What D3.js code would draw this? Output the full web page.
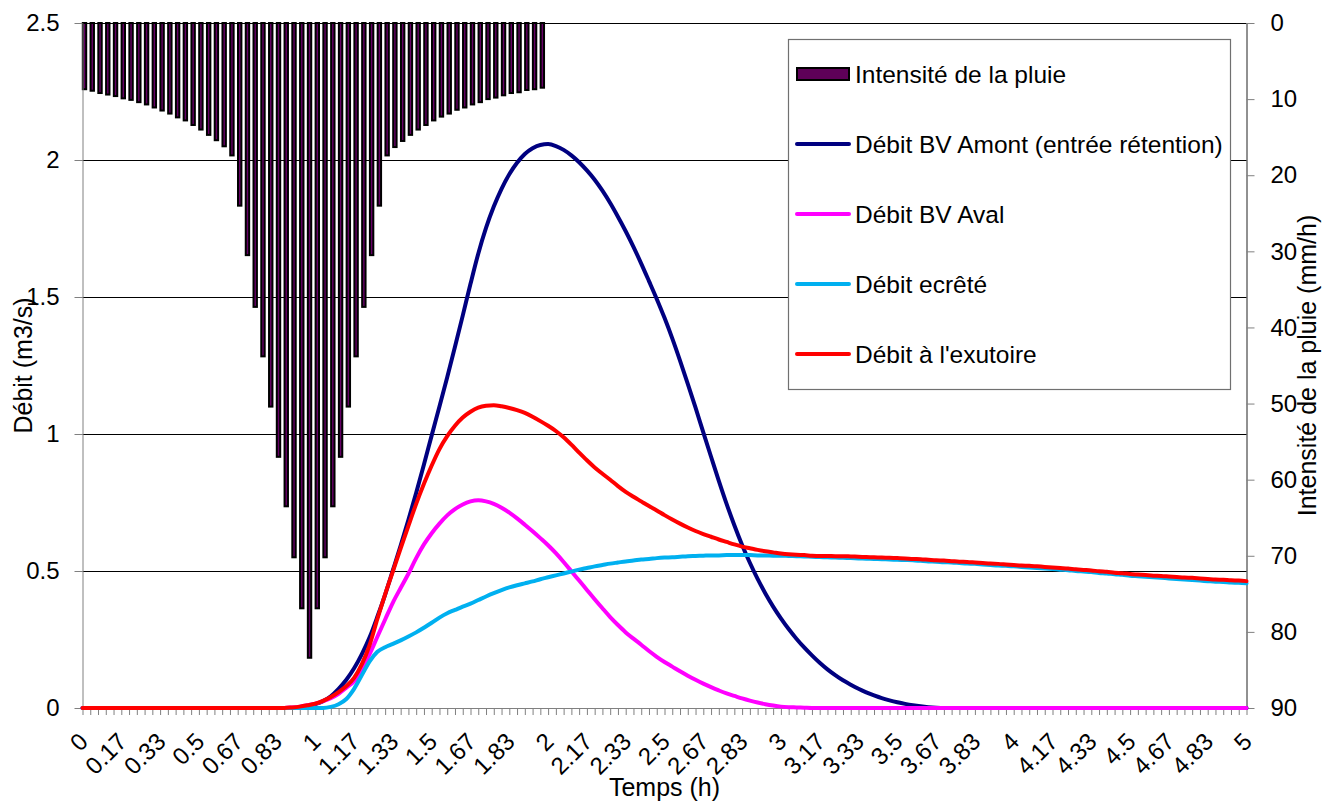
<!DOCTYPE html>
<html>
<head>
<meta charset="utf-8">
<script src="https://d3js.org/d3.v7.min.js"></script>
<style>
  body { margin: 0; background: #fff; }
  svg text { font-family: "Liberation Sans", Arial, sans-serif; fill: #000; }
</style>
</head>
<body>
<div id="chart"></div>
<script>
// tick labels of the time axis (one every 5 steps of 2 min)
var timeLabels = ["0","0.17","0.33","0.5","0.67","0.83","1","1.17","1.33","1.5","1.67","1.83",
  "2","2.17","2.33","2.5","2.67","2.83","3","3.17","3.33","3.5","3.67","3.83",
  "4","4.17","4.33","4.5","4.67","4.83","5"];
var nSteps = 151;

// rain intensity (mm/h), one bar per time step, first 60 steps
var rain = [8.7,8.9,9.2,9.4,9.6,9.9,10.1,10.4,10.7,11.1,11.5,11.9,12.4,12.8,13.4,14.0,14.7,15.4,16.2,17.4,
  24.0,30.5,37.3,43.8,50.4,57.0,63.5,70.2,76.9,83.4,76.9,70.2,63.5,57.0,50.4,43.8,37.3,30.5,24.0,17.4,
  16.3,15.5,14.7,14.0,13.4,12.8,12.3,11.9,11.4,11.1,10.7,10.4,10.0,9.8,9.5,9.2,9.1,8.8,8.7,8.5];

// Débit BV Amont (entrée rétention)
var amont = [0,0,0,0,0,0,0,0,0,0, 0,0,0,0,0,0,0,0,0,0, 0,0,0,0,0,0,0,0,0.003,0.007,
  0.014,0.025,0.043,0.070,0.103,0.145,0.197,0.258,0.333,0.414,
  0.503,0.593,0.687,0.785,0.889,0.995,1.100,1.207,1.318,1.432,
  1.548,1.658,1.752,1.830,1.895,1.948,1.990,2.022,2.043,2.055,
  2.058,2.051,2.037,2.017,1.992,1.962,1.928,1.888,1.843,1.793,
  1.740,1.683,1.622,1.558,1.493,1.424,1.349,1.268,1.183,1.096,
  1.006,0.917,0.829,0.745,0.667,0.595,0.530,0.471,0.418,0.370,
  0.327,0.288,0.253,0.221,0.192,0.165,0.141,0.120,0.101,0.085,
  0.070,0.057,0.046,0.036,0.028,0.021,0.015,0.010,0.006,0.003,
  0.001,0,0,0,0,0,0,0,0,0, 0,0,0,0,0,0,0,0,0,0, 0,0,0,0,0,0,0,0,0,0, 0,0,0,0,0,0,0,0,0,0, 0];

// Débit BV Aval
var aval = [0,0,0,0,0,0,0,0,0,0, 0,0,0,0,0,0,0,0,0,0, 0,0,0,0,0,0,0,0.002,0.005,0.010,
  0.016,0.025,0.036,0.052,0.074,0.098,0.141,0.197,0.260,0.323,
  0.385,0.438,0.490,0.547,0.597,0.638,0.673,0.703,0.726,0.743,
  0.754,0.758,0.754,0.745,0.731,0.713,0.692,0.669,0.645,0.620,
  0.594,0.565,0.533,0.499,0.465,0.431,0.397,0.364,0.332,0.303,
  0.276,0.253,0.231,0.208,0.187,0.168,0.151,0.134,0.118,0.103,
  0.089,0.076,0.064,0.053,0.044,0.035,0.027,0.020,0.014,0.009,
  0.005,0.003,0.002,0.001,0,0,0,0,0,0,
  0,0,0,0,0,0,0,0,0,0, 0,0,0,0,0,0,0,0,0,0, 0,0,0,0,0,0,0,0,0,0,
  0,0,0,0,0,0,0,0,0,0, 0,0,0,0,0,0,0,0,0,0, 0];

// Débit ecrêté
var ecrete = [0,0,0,0,0,0,0,0,0,0, 0,0,0,0,0,0,0,0,0,0, 0,0,0,0,0,0,0,0,0,0,
  0,0,0.004,0.014,0.033,0.070,0.120,0.170,0.205,0.222,
  0.234,0.247,0.261,0.276,0.293,0.311,0.330,0.346,0.358,0.370,
  0.381,0.394,0.407,0.419,0.430,0.440,0.448,0.455,0.462,0.470,
  0.477,0.484,0.491,0.498,0.505,0.511,0.517,0.522,0.527,0.531,
  0.535,0.538,0.542,0.544,0.547,0.549,0.550,0.552,0.554,0.555,
  0.556,0.557,0.557,0.558,0.558,0.558,0.558,0.557,0.557,0.556,
  0.556,0.555,0.554,0.553,0.552,0.551,0.550,0.549,0.548,0.547,
  0.546,0.545,0.544,0.543,0.542,0.541,0.540,0.539,0.537,0.535,
  0.534,0.532,0.531,0.529,0.527,0.526,0.524,0.522,0.520,0.519,
  0.517,0.515,0.513,0.511,0.509,0.507,0.505,0.503,0.500,0.498,
  0.496,0.493,0.491,0.488,0.486,0.483,0.481,0.479,0.477,0.475,
  0.473,0.471,0.469,0.467,0.465,0.463,0.461,0.460,0.458,0.457,
  0.455];

// Débit à l'exutoire
var exutoire = [0,0,0,0,0,0,0,0,0,0, 0,0,0,0,0,0,0,0,0,0, 0,0,0,0,0,0,0,0.002,0.005,0.010,
  0.016,0.026,0.040,0.058,0.080,0.110,0.160,0.230,0.325,0.415,
  0.499,0.583,0.665,0.745,0.818,0.885,0.945,0.992,1.030,1.060,
  1.081,1.096,1.103,1.105,1.101,1.095,1.087,1.077,1.063,1.047,
  1.030,1.011,0.988,0.961,0.932,0.904,0.878,0.855,0.833,0.810,
  0.789,0.771,0.754,0.737,0.721,0.704,0.688,0.673,0.659,0.646,
  0.635,0.625,0.615,0.606,0.597,0.589,0.583,0.577,0.572,0.568,
  0.564,0.561,0.559,0.558,0.556,0.555,0.555,0.554,0.554,0.553,
  0.552,0.551,0.550,0.549,0.548,0.547,0.546,0.544,0.543,0.541,
  0.539,0.538,0.536,0.534,0.533,0.531,0.529,0.527,0.526,0.524,
  0.522,0.520,0.519,0.517,0.515,0.513,0.511,0.509,0.506,0.504,
  0.502,0.499,0.497,0.494,0.492,0.489,0.487,0.485,0.483,0.482,
  0.480,0.478,0.476,0.475,0.473,0.471,0.469,0.468,0.466,0.465,
  0.463];

var leftTicks = [0, 0.5, 1, 1.5, 2, 2.5];
var rightTicks = [0, 10, 20, 30, 40, 50, 60, 70, 80, 90];

var series = [
  {name: "Débit BV Amont (entrée rétention)", values: amont, color: "#000080"},
  {name: "Débit BV Aval", values: aval, color: "#ff00ff"},
  {name: "Débit ecrêté", values: ecrete, color: "#00b0f0"},
  {name: "Débit à l'exutoire", values: exutoire, color: "#ff0000"}
];

var W = 1331, H = 803;
var margin = {top: 23, right: 84.5, bottom: 95, left: 82.5};

var svg = d3.select("#chart").append("svg")
  .attr("width", W).attr("height", H);

var steps = d3.range(nSteps);
var x = d3.scalePoint().domain(steps).range([margin.left, W - margin.right]);
var y = d3.scaleLinear().domain([0, 2.5]).range([H - margin.bottom, margin.top]);
var y2 = d3.scaleLinear().domain([0, 90]).range([margin.top, H - margin.bottom]);

// gridlines
svg.append("g")
  .selectAll("line")
  .data(leftTicks.slice(1))
  .enter().append("line")
    .attr("x1", margin.left).attr("x2", W - margin.right)
    .attr("y1", function(d) { return Math.round(y(d)) + 0.5; })
    .attr("y2", function(d) { return Math.round(y(d)) + 0.5; })
    .style("stroke", "#000")
    .style("stroke-width", 1);

// rain bars hanging from the top (secondary axis)
var barW = 3.4;
svg.append("g")
  .selectAll("rect")
  .data(rain)
  .enter().append("rect")
    .attr("x", function(d, i) { return x(i) + 2 - barW / 2; })
    .attr("y", y2(0))
    .attr("width", barW)
    .attr("height", function(d) { return y2(d) - y2(0); })
    .style("fill", "#660066")
    .style("stroke", "#000")
    .style("stroke-width", 2);

// left axis
var gLeft = svg.append("g")
  .attr("transform", "translate(" + margin.left + ",0)")
  .call(d3.axisLeft(y).tickValues(leftTicks).tickFormat(d3.format("")).tickSize(8).tickSizeOuter(0).tickPadding(15));
gLeft.selectAll("text").style("font-size", "24px");
gLeft.select(".domain").style("stroke", "#808080");
gLeft.selectAll(".tick line").style("stroke", "#808080");

// right axis
var gRight = svg.append("g")
  .attr("transform", "translate(" + (W - margin.right) + ",0)")
  .call(d3.axisRight(y2).tickValues(rightTicks).tickSize(8).tickSizeOuter(0).tickPadding(16));
gRight.selectAll("text").style("font-size", "24px");
gRight.select(".domain").style("stroke", "#222");
gRight.selectAll(".tick line").style("stroke", "#808080");

// bottom axis: a tick every step, labels every 5 steps
var gBottom = svg.append("g")
  .attr("transform", "translate(0," + (H - margin.bottom) + ")")
  .call(d3.axisBottom(x).tickSize(7).tickSizeOuter(0).tickFormat(""));
gBottom.select(".domain").style("stroke", "#808080");
gBottom.selectAll(".tick line").style("stroke", "#808080");

svg.append("g")
  .selectAll("text")
  .data(timeLabels)
  .enter().append("text")
    .attr("transform", function(d, j) {
      return "translate(" + (x(j * 5) + 7) + "," + 743 + ") rotate(-45)";
    })
    .style("text-anchor", "end")
    .style("font-size", "24px")
    .text(function(d) { return d; });

// flow lines
var line = d3.line()
  .x(function(d, i) { return x(i); })
  .y(function(d) { return y(d); })
  .curve(d3.curveMonotoneX);

svg.append("g")
  .selectAll("path")
  .data(series)
  .enter().append("path")
    .attr("d", function(s) { return line(s.values); })
    .style("fill", "none")
    .style("stroke", function(s) { return s.color; })
    .style("stroke-width", 4)
    .style("stroke-linejoin", "round")
    .style("stroke-linecap", "round");

// axis titles
svg.append("text")
  .attr("transform", "translate(32," + ((margin.top + H - margin.bottom) / 2) + ") rotate(-90)")
  .style("text-anchor", "middle")
  .style("font-size", "25px")
  .text("Débit (m3/s)");

svg.append("text")
  .attr("transform", "translate(1316," + ((margin.top + H - margin.bottom) / 2) + ") rotate(-90)")
  .style("text-anchor", "middle")
  .style("font-size", "25px")
  .text("Intensité de la pluie (mm/h)");

svg.append("text")
  .attr("x", (margin.left + W - margin.right) / 2)
  .attr("y", 796)
  .style("text-anchor", "middle")
  .style("font-size", "25px")
  .text("Temps (h)");

// legend
var legend = svg.append("g");
legend.append("rect")
  .attr("x", 788.5).attr("y", 39.5)
  .attr("width", 442).attr("height", 350)
  .style("fill", "#fff")
  .style("stroke", "#707070")
  .style("stroke-width", 1.2);

var legendItems = [{name: "Intensité de la pluie", bar: true}].concat(series);
var item = legend.selectAll(".item")
  .data(legendItems)
  .enter().append("g")
    .attr("class", "item")
    .attr("transform", function(d, i) { return "translate(796," + (74 + i * 70) + ")"; });

item.filter(function(d) { return d.bar; })
  .append("rect")
    .attr("x", 1).attr("y", -6)
    .attr("width", 52).attr("height", 12)
    .style("fill", "#5e0058")
    .style("stroke", "#000")
    .style("stroke-width", 2);

item.filter(function(d) { return !d.bar; })
  .append("line")
    .attr("x1", 1).attr("x2", 53)
    .attr("y1", 0).attr("y2", 0)
    .style("stroke", function(d) { return d.color; })
    .style("stroke-width", 4)
    .style("stroke-linecap", "round");

item.append("text")
  .attr("x", 59)
  .attr("dy", "0.35em")
  .style("font-size", "24.5px")
  .text(function(d) { return d.name; });
</script>
</body>
</html>
